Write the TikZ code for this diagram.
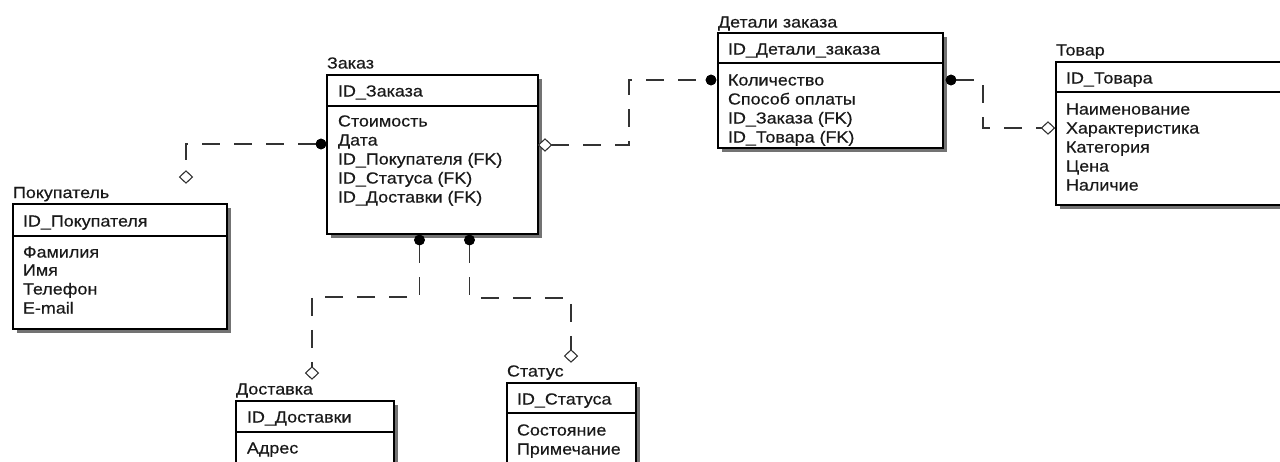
\documentclass[tikz,border=0pt]{standalone}
\usepackage{fontspec}
\setmainfont[FakeStretch=1.12,FakeBold=0.4]{Liberation Sans}
\usetikzlibrary{shapes.geometric,fit}

% entity box: name, x1, y1, x2, y2, y of the key divider
\newcommand\erbox[6]{%
  \fill[shade] (#2+4,#3+4) rectangle (#4+4,#5+4);
  \node[box, fit={(#2,#3) (#4,#5)}] (#1) {};
  \draw[divline] (#1.west |- 0,#6) -- (#1.east |- 0,#6);
}

\begin{document}
\begin{tikzpicture}[x=0.75pt,y=-0.75pt,
  every node/.style={inner sep=0pt, outer sep=0pt},
  txt/.style={anchor=base west, font=\fontsize{12pt}{14pt}\selectfont, text=black!90},
  box/.style={draw=black, line width=1.1pt, fill=white},
  shade/.style={fill=black!55},
  divline/.style={draw=black, line width=1.1pt},
  rel/.style={draw=black!80, line width=0.9pt, dash pattern=on 13.5pt off 10.5pt},
  dot/.style={circle, fill=black, minimum size=8pt},
  dia/.style={diamond, draw=black!80, fill=white, line width=0.7pt, minimum width=9.5pt, minimum height=9pt},
]
\useasboundingbox (0,0) rectangle (1280,461);
\clip (0,0) rectangle (1280,461);

% ---- entities ----
\erbox{pok}{13}{204}{227}{329}{236}
\node[txt] (pok-t) at (13,198) {Покупатель};
\node[txt] (pok-k) at (23,226.5) {ID\_Покупателя};
\node[txt] (pok-a1) at (23,257.5) {Фамилия};
\node[txt] (pok-a2) at (23,275.5) {Имя};
\node[txt] (pok-a3) at (23,294.5) {Телефон};
\node[txt] (pok-a4) at (23,313.5) {E-mail};

\erbox{zak}{327}{75}{538}{234}{106}
\node[txt] (zak-t) at (327,68.5) {Заказ};
\node[txt] (zak-k) at (338,96.5) {ID\_Заказа};
\node[txt] (zak-a1) at (338,126.5) {Стоимость};
\node[txt] (zak-a2) at (338,145.5) {Дата};
\node[txt] (zak-a3) at (338,164.5) {ID\_Покупателя (FK)};
\node[txt] (zak-a4) at (338,183.5) {ID\_Статуса (FK)};
\node[txt] (zak-a5) at (338,202.5) {ID\_Доставки (FK)};

\erbox{det}{718}{33}{943}{148}{63}
\node[txt] (det-t) at (718,27.5) {Детали заказа};
\node[txt] (det-k) at (728,54.5) {ID\_Детали\_заказа};
\node[txt] (det-a1) at (728,85.5) {Количество};
\node[txt] (det-a2) at (728,104.5) {Способ оплаты};
\node[txt] (det-a3) at (728,123.5) {ID\_Заказа (FK)};
\node[txt] (det-a4) at (728,142.5) {ID\_Товара (FK)};

\erbox{tov}{1056}{62}{1292}{205}{92}
\node[txt] (tov-t) at (1056,55.5) {Товар};
\node[txt] (tov-k) at (1066,83.5) {ID\_Товара};
\node[txt] (tov-a1) at (1066,114.5) {Наименование};
\node[txt] (tov-a2) at (1066,133.5) {Характеристика};
\node[txt] (tov-a3) at (1066,152.5) {Категория};
\node[txt] (tov-a4) at (1066,171.5) {Цена};
\node[txt] (tov-a5) at (1066,190.5) {Наличие};

\erbox{dos}{236}{401}{394}{485}{432}
\node[txt] (dos-t) at (236,394.5) {Доставка};
\node[txt] (dos-k) at (247,422.5) {ID\_Доставки};
\node[txt] (dos-a1) at (247,453.5) {Адрес};

\erbox{sta}{507}{383}{636}{485}{413}
\node[txt] (sta-t) at (507,376.5) {Статус};
\node[txt] (sta-k) at (517,404.5) {ID\_Статуса};
\node[txt] (sta-a1) at (517,435.5) {Состояние};
\node[txt] (sta-a2) at (517,454.5) {Примечание};

% ---- relationship ends ----
\node[dot] (d1) at (321,144) {};
\node[dia] (m1) at (186,177) {};
\node[dia] (m2) at (545,145) {};
\node[dot] (d2) at (711,80) {};
\node[dot] (d3) at (951,80) {};
\node[dia] (m3) at (1048,128) {};
\node[dot] (d4) at (419.5,240) {};
\node[dia] (m4) at (312,373) {};
\node[dot] (d5) at (469.5,240) {};
\node[dia] (m5) at (571,356) {};

% ---- bend points ----
\coordinate (b2) at (629,145);
\coordinate (b3) at (983,80);
\coordinate (b4) at (419.5,297);
\coordinate (b5) at (469.5,298);

% ---- relationships ----
\draw[rel] (d1) -- (m1 |- d1) -- (m1);
\draw[rel] (m2) -- (b2) -- (b2 |- d2) -- (d2);
\draw[rel] (d3) -- (b3) -- (b3 |- m3) -- (m3);
\draw[rel] (d4) -- (b4) -- (m4 |- b4) -- (m4);
\draw[rel] (d5) -- (b5) -- (m5 |- b5) -- (m5);

% redraw the ends over the dashes
\foreach \n in {m1,m2,m3,m4,m5}{\node[dia] at (\n) {};}
\foreach \n in {d1,d2,d3,d4,d5}{\node[dot] at (\n) {};}
\end{tikzpicture}
\end{document}
